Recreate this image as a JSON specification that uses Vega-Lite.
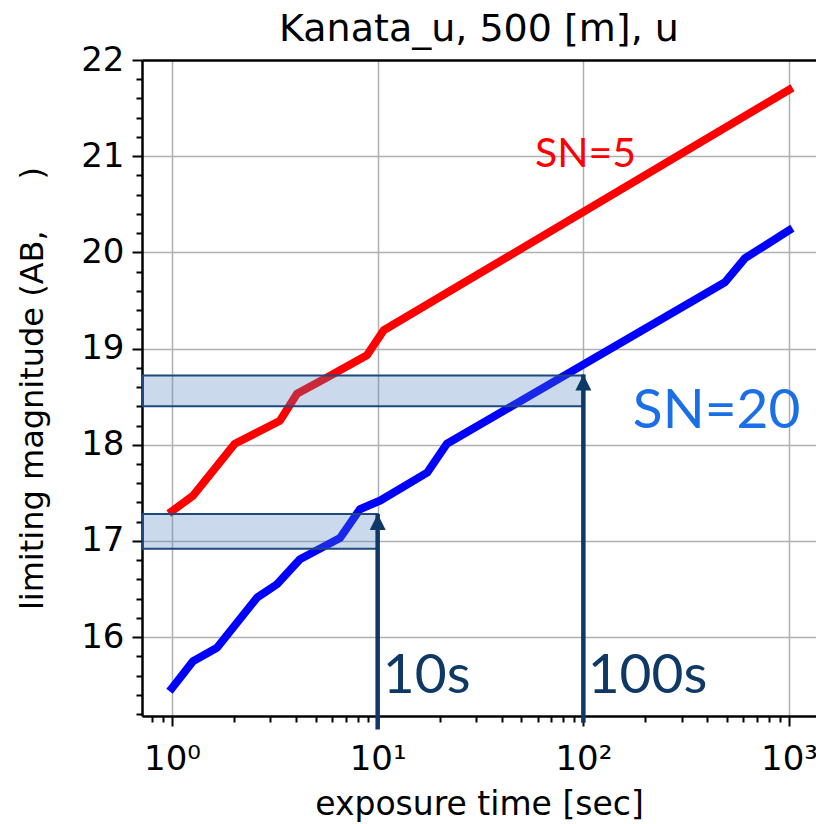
{
  "$schema": "https://vega.github.io/schema/vega-lite/v6.json",
  "autosize": "none",
  "width": 674,
  "height": 656,
  "padding": {"left": 142, "top": 60, "right": 0, "bottom": 108},
  "background": "white",
  "config": {
    "view": {"stroke": null},
    "font": "DejaVu Sans",
    "axis": {
      "labelFont": "DejaVu Sans",
      "titleFont": "DejaVu Sans",
      "labelColor": "black",
      "titleColor": "black",
      "titleFontWeight": "normal",
      "domainColor": "black",
      "domainWidth": 2.5,
      "tickColor": "black",
      "tickWidth": 2,
      "gridColor": "#b0b0b0",
      "gridWidth": 1.5
    }
  },
  "title": {
    "text": "Kanata_u, 500 [m], u",
    "fontSize": 38,
    "fontWeight": "normal",
    "font": "DejaVu Sans",
    "color": "black",
    "anchor": "middle",
    "offset": -6
  },
  "datasets": {
    "lines": [
      {"sn": "SN=5", "t": 1.0, "mag": 17.31},
      {"sn": "SN=5", "t": 1.265, "mag": 17.47},
      {"sn": "SN=5", "t": 2.02, "mag": 18.01},
      {"sn": "SN=5", "t": 3.35, "mag": 18.25},
      {"sn": "SN=5", "t": 4.05, "mag": 18.53},
      {"sn": "SN=5", "t": 5.67, "mag": 18.70},
      {"sn": "SN=5", "t": 8.87, "mag": 18.93},
      {"sn": "SN=5", "t": 10.7, "mag": 19.19},
      {"sn": "SN=5", "t": 1000, "mag": 21.69},
      {"sn": "SN=20", "t": 1.0, "mag": 15.47},
      {"sn": "SN=20", "t": 1.265, "mag": 15.75},
      {"sn": "SN=20", "t": 1.655, "mag": 15.89},
      {"sn": "SN=20", "t": 2.59, "mag": 16.41},
      {"sn": "SN=20", "t": 3.24, "mag": 16.55},
      {"sn": "SN=20", "t": 4.19, "mag": 16.81},
      {"sn": "SN=20", "t": 6.56, "mag": 17.03},
      {"sn": "SN=20", "t": 8.2, "mag": 17.33},
      {"sn": "SN=20", "t": 10.3, "mag": 17.42},
      {"sn": "SN=20", "t": 17.4, "mag": 17.71},
      {"sn": "SN=20", "t": 21.7, "mag": 18.01},
      {"sn": "SN=20", "t": 488, "mag": 19.69},
      {"sn": "SN=20", "t": 611, "mag": 19.94},
      {"sn": "SN=20", "t": 1000, "mag": 20.23}
    ],
    "boxes": [
      {"t0": 0.72, "t1": 100, "m0": 18.40, "m1": 18.72},
      {"t0": 0.72, "t1": 10, "m0": 16.92, "m1": 17.28}
    ],
    "arrows": [
      {"t": 10, "tip": 17.28, "base": 15.04},
      {"t": 100, "tip": 18.73, "base": 15.11}
    ],
    "labels": [
      {"label": "10s", "t": 10.6, "mag": 15.42},
      {"label": "100s", "t": 105, "mag": 15.42},
      {"label": "SN=20", "t": 174, "mag": 18.17},
      {"label": "SN=5", "t": 58.2, "mag": 20.89}
    ]
  },
  "layer": [
    {
      "data": {"name": "lines"},
      "mark": {"type": "line", "strokeWidth": 8, "strokeCap": "square", "strokeJoin": "round"},
      "encoding": {
        "x": {
          "field": "t", "type": "quantitative",
          "scale": {"type": "log", "domain": [0.715, 1352], "nice": false},
          "axis": {
            "title": "exposure time [sec]",
            "titleFontSize": 33,
            "titlePadding": 12,
            "labelFontSize": 34,
            "labelPadding": 16,
            "tickCount": 1000,
            "values": [0.8, 0.9, 1, 2, 3, 4, 5, 6, 7, 8, 9, 10, 20, 30, 40, 50, 60, 70, 80, 90, 100, 200, 300, 400, 500, 600, 700, 800, 900, 1000],
            "labelExpr": "datum.value == 1 ? '10⁰' : datum.value == 10 ? '10¹' : datum.value == 100 ? '10²' : datum.value == 1000 ? '10³' : ''",
            "labelOverlap": false,
            "labelFlush": false,
            "tickSize": {"condition": {"test": "indexof([1,10,100,1000], datum.value) >= 0", "value": 10}, "value": 6},
            "gridOpacity": {"condition": {"test": "indexof([1,10,100,1000], datum.value) >= 0", "value": 1}, "value": 0}
          }
        },
        "y": {
          "field": "mag", "type": "quantitative",
          "scale": {"domain": [15.18, 22], "nice": false, "zero": false},
          "axis": {
            "title": "limiting magnitude (AB,\u00a0\u00a0\u00a0\u00a0\u00a0)",
            "titleFontSize": 32,
            "titlePadding": 31,
            "labelFontSize": 34,
            "labelPadding": 8,
            "tickCount": 1000,
            "values": [15.2, 15.4, 15.6, 15.8, 16, 16.2, 16.4, 16.6, 16.8, 17, 17.2, 17.4, 17.6, 17.8, 18, 18.2, 18.4, 18.6, 18.8, 19, 19.2, 19.4, 19.6, 19.8, 20, 20.2, 20.4, 20.6, 20.8, 21, 21.2, 21.4, 21.6, 21.8, 22],
            "labelExpr": "abs(datum.value - round(datum.value)) < 0.01 ? format(datum.value, 'd') : ''",
            "labelOverlap": false,
            "labelFlush": false,
            "tickSize": {"condition": {"test": "abs(datum.value - round(datum.value)) < 0.01", "value": 10}, "value": 6},
            "gridOpacity": {"condition": {"test": "abs(datum.value - round(datum.value)) < 0.01", "value": 1}, "value": 0},
            "gridColor": {"condition": {"test": "datum.value > 21.9", "value": "black"}, "value": "#b0b0b0"},
            "gridWidth": {"condition": {"test": "datum.value > 21.9", "value": 2.5}, "value": 1.5}
          }
        },
        "color": {
          "field": "sn", "type": "nominal",
          "scale": {"domain": ["SN=5", "SN=20"], "range": ["#ff0000", "#0000ff"]},
          "legend": null
        },
        "detail": {"field": "sn"}
      }
    },
    {
      "data": {"name": "boxes"},
      "mark": {"type": "rect", "fill": "#4f81bd", "fillOpacity": 0.3, "stroke": "#1f497d", "strokeWidth": 2, "strokeOpacity": 1},
      "encoding": {
        "x": {"field": "t0", "type": "quantitative"},
        "x2": {"field": "t1"},
        "y": {"field": "m0", "type": "quantitative"},
        "y2": {"field": "m1"}
      }
    },
    {
      "data": {"name": "arrows"},
      "mark": {"type": "rule", "color": "#0e3866", "strokeWidth": 4.5},
      "encoding": {
        "x": {"field": "t", "type": "quantitative"},
        "y": {"field": "base", "type": "quantitative"},
        "y2": {"field": "tip"}
      }
    },
    {
      "data": {"name": "arrows"},
      "mark": {"type": "point", "shape": "M0,0L-0.5,1L0.5,1Z", "filled": true, "color": "#0e3866", "opacity": 1, "size": 1024},
      "encoding": {
        "x": {"field": "t", "type": "quantitative"},
        "y": {"field": "tip", "type": "quantitative"}
      }
    },
    {
      "data": {"name": "labels"},
      "transform": [{"filter": "datum.label == '10s' || datum.label == '100s'"}],
      "mark": {"type": "text", "font": "Lato", "fontSize": 55, "align": "left", "baseline": "alphabetic", "color": "#0e3866"},
      "encoding": {
        "x": {"field": "t", "type": "quantitative"},
        "y": {"field": "mag", "type": "quantitative"},
        "text": {"field": "label"}
      }
    },
    {
      "data": {"name": "labels"},
      "transform": [{"filter": "datum.label == 'SN=20'"}],
      "mark": {"type": "text", "font": "Lato", "fontSize": 55, "align": "left", "baseline": "alphabetic", "color": "#1a6fe6"},
      "encoding": {
        "x": {"field": "t", "type": "quantitative"},
        "y": {"field": "mag", "type": "quantitative"},
        "text": {"field": "label"}
      }
    },
    {
      "data": {"name": "labels"},
      "transform": [{"filter": "datum.label == 'SN=5'"}],
      "mark": {"type": "text", "font": "Lato", "fontSize": 41, "align": "left", "baseline": "alphabetic", "color": "#ff0000"},
      "encoding": {
        "x": {"field": "t", "type": "quantitative"},
        "y": {"field": "mag", "type": "quantitative"},
        "text": {"field": "label"}
      }
    }
  ]
}
